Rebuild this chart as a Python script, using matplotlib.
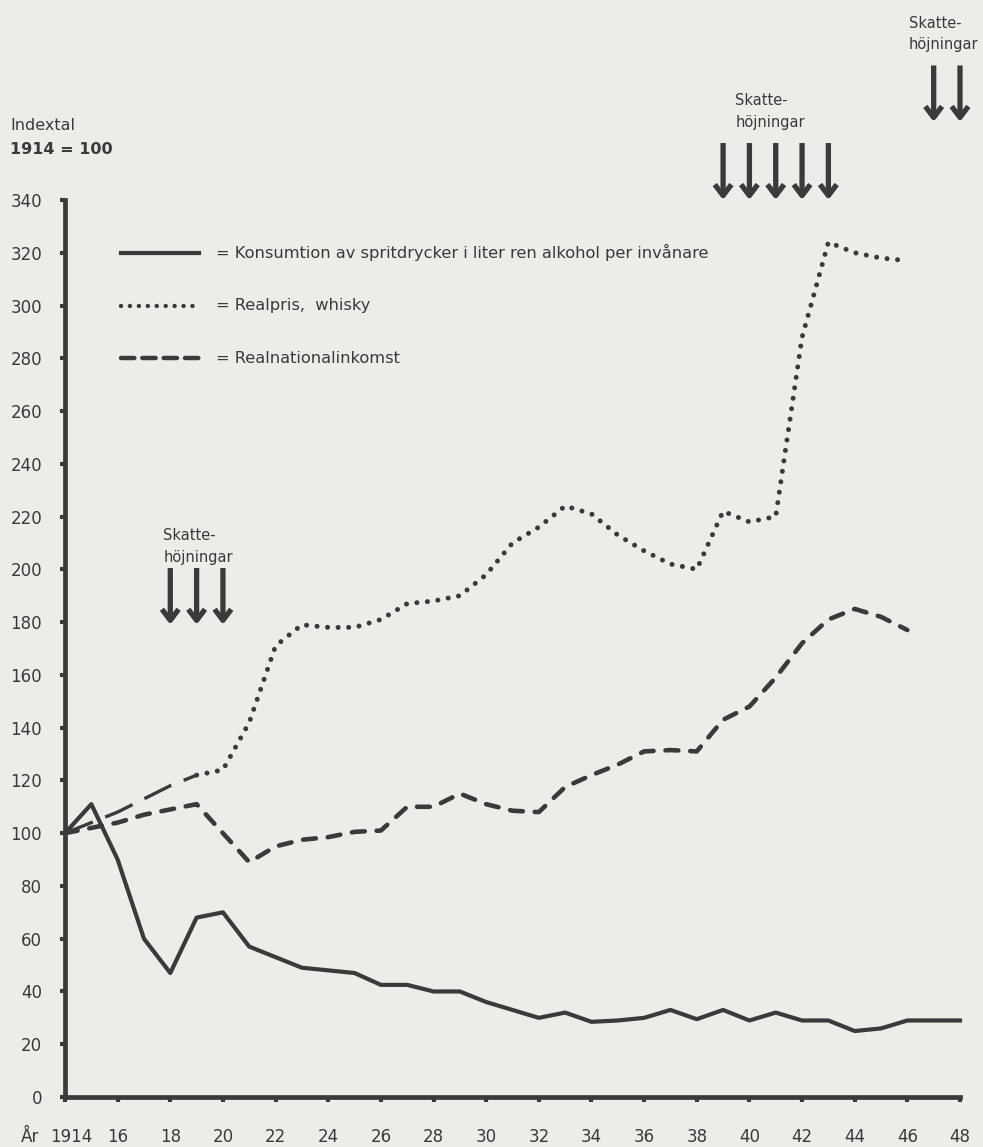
import matplotlib
matplotlib.use("Agg")
import matplotlib.pyplot as plt
from matplotlib.transforms import ScaledTranslation

# ---------------- data ----------------
years_cons = list(range(1914, 1949))
consumption = [100, 111, 90, 60, 47, 68, 70, 57, 53, 49,
               48, 47, 42.5, 42.5, 40, 40, 36, 33, 30, 32,
               28.5, 29, 30, 33, 29.5, 33, 29, 32, 29, 29,
               25, 26, 29, 29, 29]

years_price = list(range(1914, 1947))
whisky = [100, 104, 108, 113, 118, 122, 124, 142, 171, 179,
          178, 178, 181, 187, 188, 190, 198, 210, 216, 224,
          221, 213, 207, 202, 200, 222, 218, 220, 288, 324,
          320, 318, 317]
income = [100, 102, 104, 107, 109, 111, 100, 89, 95, 97.5,
          98.5, 100.5, 101, 110, 110, 115, 111, 108.5, 108, 117.5,
          122, 126, 131, 131.5, 131, 143, 148, 159, 172, 181,
          185, 182, 177]

tax_group1 = [1918, 1919, 1920]
tax_group2 = [1939, 1940, 1941, 1942, 1943]
tax_group3 = [1947, 1948]
tax_label = "Skatte-\nhöjningar"

x_ticks = list(range(1914, 1949, 2))
x_tick_labels = ["1914"] + [str(y)[2:] for y in x_ticks[1:]]
y_ticks = list(range(0, 341, 20))

legend_labels = ["= Konsumtion av spritdrycker i liter ren alkohol per invånare",
                 "= Realpris,  whisky",
                 "= Realnationalinkomst"]

# ---------------- style ----------------
BG = "#ecece9"
INK = "#3a3a3a"
plt.rcParams["font.family"] = ["DejaVu Sans"]

fig = plt.figure(figsize=(9.83, 11.47), dpi=100, facecolor=BG)
ax = fig.add_axes([65 / 983, 50 / 1147, (960 - 65) / 983, (1097 - 200) / 1147])
ax.set_facecolor(BG)
ax.set_xlim(1914, 1948)
ax.set_ylim(0, 340)

for s in ["top", "right"]:
    ax.spines[s].set_visible(False)
for s in ["left", "bottom"]:
    ax.spines[s].set_linewidth(3.4)
    ax.spines[s].set_color(INK)
    ax.spines[s].set_capstyle("projecting")

ax.set_xticks(x_ticks)
ax.set_xticklabels(x_tick_labels)
ax.set_yticks(y_ticks)
ax.tick_params(axis="both", direction="out", length=3.5, width=3, color=INK,
               labelcolor=INK, labelsize=12)
ax.tick_params(axis="y", pad=13)
ax.tick_params(axis="x", pad=19)
first = ax.get_xticklabels()[0]
first.set_transform(first.get_transform() + ScaledTranslation(6 / 100, 0, fig.dpi_scale_trans))

# ---------------- series ----------------
ax.plot(years_cons, consumption, color=INK, lw=3.0, solid_joinstyle="round",
        clip_on=False, zorder=3)

ax.plot(years_price[:6], whisky[:6], color=INK, lw=2.4, linestyle=(0, (9, 4)),
        clip_on=False, zorder=3)
ax.plot(years_price[5:], whisky[5:], color=INK, lw=3.6, linestyle=(0, (0.01, 2.1)),
        dash_capstyle="round", clip_on=False, zorder=3)

ax.plot(years_price, income, color=INK, lw=3.3, linestyle=(0, (2.8, 2.6)),
        dash_capstyle="round", clip_on=False, zorder=3)

# ---------------- legend ----------------
leg_x0, leg_x1, leg_tx = 1916.14, 1919.1, 1919.72
leg_y = [320, 300, 280]
ax.plot([leg_x0, leg_x1], [leg_y[0]] * 2, color=INK, lw=3.0)
ax.plot([leg_x0, leg_x1], [leg_y[1]] * 2, color=INK, lw=3.2,
        linestyle=(0, (0.01, 2.0)), dash_capstyle="round")
ax.plot([leg_x0, leg_x1], [leg_y[2]] * 2, color=INK, lw=3.2,
        linestyle=(0, (3.0, 1.8)), dash_capstyle="round")
for yv, lab in zip(leg_y, legend_labels):
    ax.text(leg_tx, yv, lab, fontsize=11.7, color=INK, va="center", ha="left")

# ---------------- tax arrows ----------------
def tax_arrows(xs, top, tip, label_x, label_y, ha="left"):
    for xv in xs:
        ax.annotate("", xy=(xv, tip), xytext=(xv, top),
                    arrowprops=dict(arrowstyle="->,head_length=0.8,head_width=0.6",
                                    lw=3.8, color=INK, mutation_scale=10,
                                    shrinkA=0, shrinkB=0, capstyle="butt"),
                    annotation_clip=False)
    ax.text(label_x, label_y, tax_label, fontsize=10.5, color=INK, ha=ha,
            va="bottom", linespacing=1.55, clip_on=False, multialignment="left")

tax_arrows(tax_group1, 200.5, 179, 1917.73, 201.8)
tax_arrows(tax_group2, 361.6, 340, 1939.47, 366.5)
tax_arrows(tax_group3, 391, 369.6, 1948.7, 396.0, ha="right")

# ---------------- titles ----------------
fig.text(10 / 983, 1 - 126 / 1147, "Indextal", fontsize=11.5, color=INK,
         ha="left", va="center")
fig.text(10 / 983, 1 - 150 / 1147, "1914 = 100", fontsize=11.5, color=INK,
         ha="left", va="center", fontweight="bold")
fig.text(30 / 983, 1 - 1137 / 1147, "År", fontsize=12, color=INK,
         ha="center", va="center")

fig.savefig("out.png", dpi=100, facecolor=BG)
